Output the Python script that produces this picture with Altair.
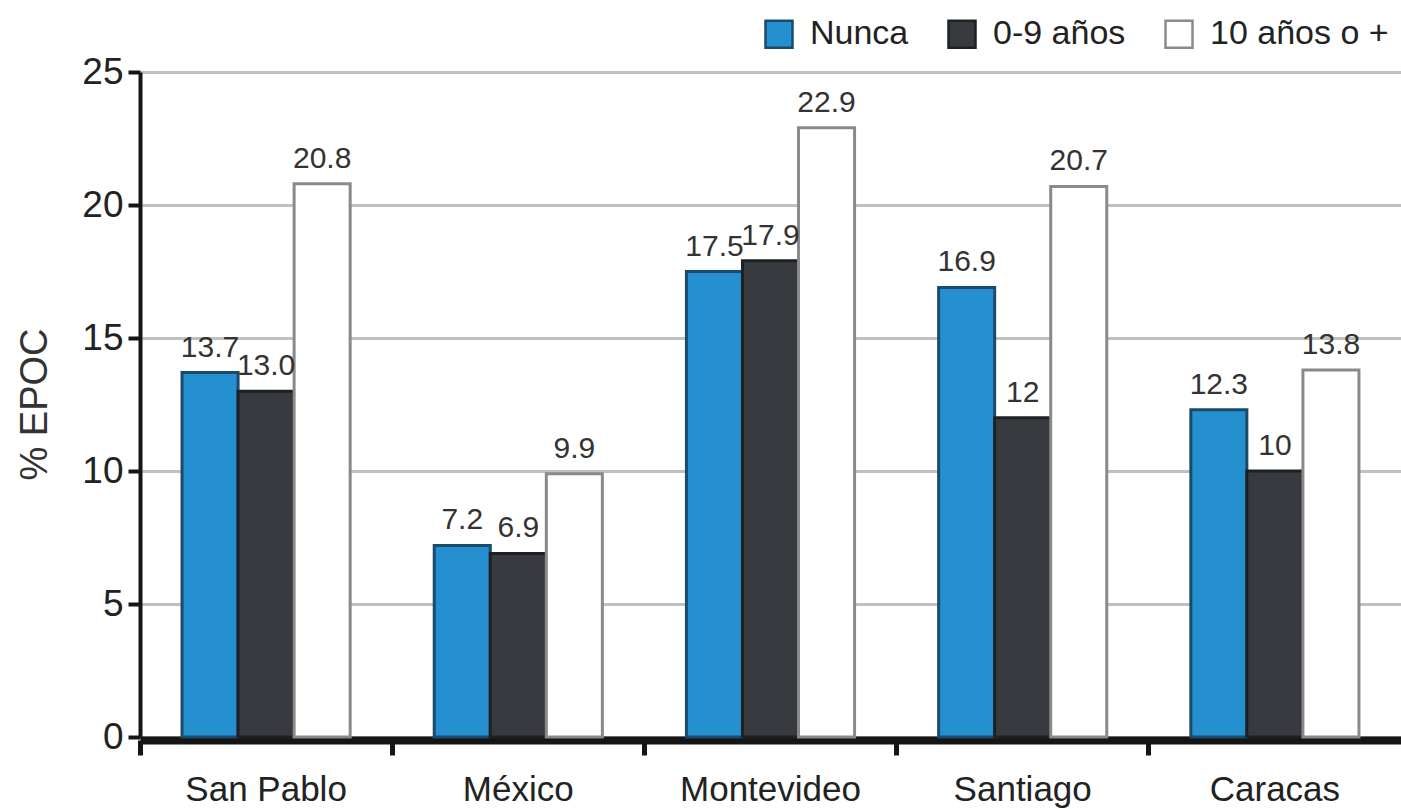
import altair as alt
import pandas as pd

# Categories and series
ciudades = ["San Pablo", "México", "Montevideo", "Santiago", "Caracas"]
grupos = ["Nunca", "0-9 años", "10 años o +"]

nunca = [13.7, 7.2, 17.5, 16.9, 12.3]
cero_a_nueve = [13.0, 6.9, 17.9, 12, 10]
diez_o_mas = [20.8, 9.9, 22.9, 20.7, 13.8]

# Printed value labels (as shown above each bar)
txt_nunca = ["13.7", "7.2", "17.5", "16.9", "12.3"]
txt_cero_a_nueve = ["13.0", "6.9", "17.9", "12", "10"]
txt_diez_o_mas = ["20.8", "9.9", "22.9", "20.7", "13.8"]

y_ticks = [0, 5, 10, 15, 20, 25]

relleno = ["#2490d0", "#373b3f", "#ffffff"]
borde = ["#1b4a6b", "#1e2023", "#8a8a8a"]

FONT = "Liberation Sans"

filas = []
for serie, valores, textos in zip(
    grupos,
    [nunca, cero_a_nueve, diez_o_mas],
    [txt_nunca, txt_cero_a_nueve, txt_diez_o_mas],
):
    for ciudad, v, t in zip(ciudades, valores, textos):
        filas.append({"ciudad": ciudad, "grupo": serie, "valor": v, "etiqueta": t})
df = pd.DataFrame(filas)

x_enc = alt.X(
    "ciudad:N",
    sort=ciudades,
    scale=alt.Scale(paddingInner=0, paddingOuter=0),
    axis=alt.Axis(
        title=None,
        labelAngle=0,
        bandPosition=0,
        labelFont=FONT,
        labelFontSize=35,
        labelColor="#222222",
        labelPadding=17,
        labelLimit=0,
        tickSize=15,
        tickWidth=5,
        tickColor="#151515",
        domainColor="#151515",
        domainWidth=8,
        offset=3,
        grid=False,
    ),
)
xoff_enc = alt.XOffset(
    "grupo:N", sort=grupos, scale=alt.Scale(paddingInner=0, paddingOuter=0.75)
)
y_enc = alt.Y(
    "valor:Q",
    scale=alt.Scale(domain=[0, 25], nice=False),
    axis=alt.Axis(
        values=y_ticks,
        title="% EPOC",
        titleFont=FONT,
        titleFontSize=38,
        titleFontWeight="normal",
        titleColor="#333333",
        titleAngle=270,
        titleX=-105,
        titleY=332,
        titleAlign="center",
        titleBaseline="middle",
        labelFont=FONT,
        labelFontSize=37,
        labelColor="#222222",
        labelPadding=5,
        tickSize=12,
        tickWidth=4,
        tickColor="#151515",
        domainColor="#151515",
        domainWidth=4,
        gridColor="#c0c0c0",
        gridWidth=3,
    ),
)

leyenda = alt.Legend(
    title=None,
    orient="none",
    direction="horizontal",
    legendX=622,
    legendY=-55,
    symbolType="square",
    symbolSize=729,
    symbolStrokeWidth=2.5,
    labelFont=FONT,
    labelFontSize=34,
    labelColor="#222222",
    labelOffset=14,
    labelLimit=0,
    columnPadding=34,
)

barras = alt.Chart(df).mark_bar(strokeWidth=3).encode(
    x=x_enc,
    xOffset=xoff_enc,
    y=y_enc,
    fill=alt.Fill("grupo:N", sort=grupos, scale=alt.Scale(domain=grupos, range=relleno), legend=leyenda),
    stroke=alt.Stroke("grupo:N", sort=grupos, scale=alt.Scale(domain=grupos, range=borde), legend=leyenda),
)

valores = alt.Chart(df).mark_text(
    font=FONT, fontSize=30, baseline="alphabetic", dy=-16, color="#333333"
).encode(
    x=alt.X("ciudad:N", sort=ciudades),
    xOffset=alt.XOffset("grupo:N", sort=grupos),
    y=alt.Y("valor:Q"),
    text="etiqueta:N",
)

chart = (
    alt.layer(barras, valores)
    .properties(
        width=1261,
        height=665,
        autosize=alt.AutoSizeParams(type="none"),
        padding={"left": 140, "top": 72, "right": 0, "bottom": 72},
        background="white",
    )
    .configure_view(stroke=None)
)

chart.save("out.html", embed_options={"renderer": "svg", "actions": False})
